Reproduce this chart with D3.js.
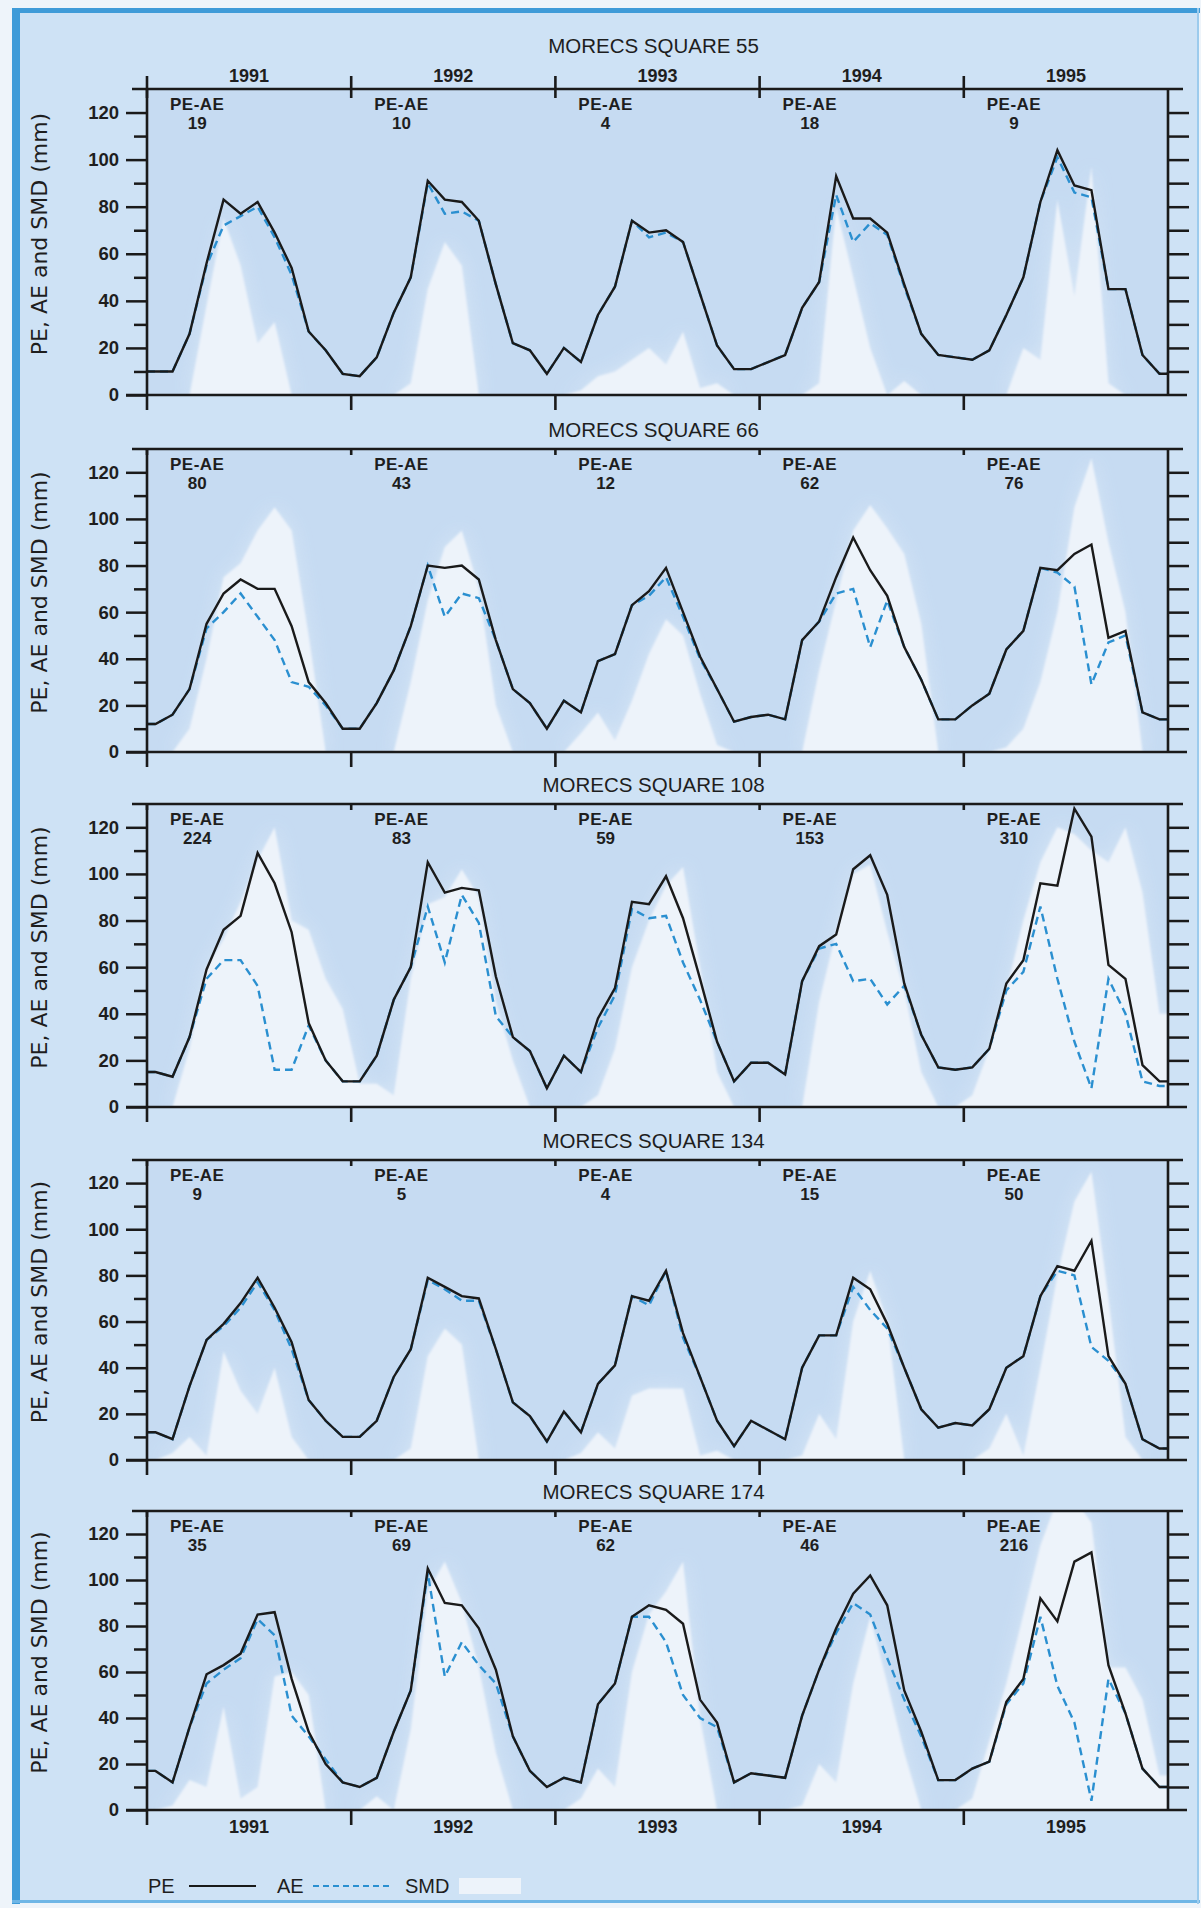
<!DOCTYPE html>
<html>
<head>
<meta charset="utf-8">
<script src="https://cdn.jsdelivr.net/npm/d3@7/dist/d3.min.js"></script>
<style>
  body { margin: 0; background: #eef4fa; }
  text { font-family: "Liberation Sans", Arial, sans-serif; fill: #1e1e1e; }
</style>
</head>
<body>
<svg id="chart" width="1201" height="1908"></svg>
<script>
// ---- data (monthly values, Jan 1991 .. Dec 1995) ----
var years = ["1991", "1992", "1993", "1994", "1995"];
var yTicks = [0, 20, 40, 60, 80, 100, 120];
var squares = [55, 66, 108, 134, 174];

var pe55  = [10,10,26,56,83,77,82,69,54,27,19,9, 8,16,35,50,91,83,82,74,47,22,19,9, 20,14,34,46,74,69,70,65,43,21,11,11, 14,17,37,48,93,75,75,69,47,26,17,16, 15,19,34,50,82,104,89,87,45,45,17,9];
var ae55  = [10,10,26,55,72,76,80,67,51,27,19,9, 8,16,35,50,90,77,78,74,47,22,19,9, 20,14,34,46,74,67,69,65,43,21,11,11, 14,17,37,48,85,65,73,68,46,26,17,16, 15,19,34,50,82,101,86,84,45,45,17,9];
var smd55 = [0,0,0,38,75,55,22,31,0,0,0,0, 0,0,0,5,45,65,55,0,0,0,0,0, 0,2,8,10,15,20,13,27,3,5,0,0, 0,0,0,5,80,50,20,0,6,0,0,0, 0,0,0,20,15,83,42,97,5,0,0,0];
var peae55 = [19, 10, 4, 18, 9];

var pe66  = [12,16,27,55,68,74,70,70,54,30,21,10, 10,21,35,54,80,79,80,74,48,27,21,10, 22,17,39,42,63,69,79,60,41,27,13,15, 16,14,48,56,75,92,78,67,45,31,14,14, 20,25,44,52,79,78,85,89,49,52,17,14];
var ae66  = [12,16,27,53,60,68,58,48,30,28,20,10, 10,21,35,54,80,58,68,66,48,27,21,10, 22,17,39,42,63,67,75,58,40,27,13,15, 16,14,48,56,68,70,45,65,45,31,14,14, 20,25,44,52,79,77,71,29,47,50,17,14];
var smd66 = [0,0,10,40,75,81,95,105,95,50,0,0, 0,0,0,30,65,88,95,70,20,0,0,0, 0,8,17,5,22,42,57,50,25,3,0,0, 0,0,0,35,65,95,106,96,85,55,0,0, 0,0,2,10,30,60,105,126,90,60,0,0];
var peae66 = [80, 43, 12, 62, 76];

var pe108  = [15,13,30,59,76,82,109,96,75,36,20,11, 11,22,46,60,105,92,94,93,56,30,24,8, 22,15,38,51,88,87,99,81,55,28,11,19, 19,14,54,69,74,102,108,91,53,31,17,16, 17,25,53,63,96,95,128,116,61,55,18,11];
var ae108  = [15,13,30,55,63,63,52,16,16,35,20,11, 11,22,46,60,86,62,91,79,39,30,24,8, 22,15,34,48,85,81,82,62,46,28,11,19, 19,14,54,68,70,54,55,44,52,31,17,16, 17,25,50,58,86,55,28,8,55,40,11,9];
var smd108 = [0,0,25,60,72,88,106,120,80,76,55,42, 10,10,5,55,87,90,102,90,45,20,0,0, 0,0,5,25,60,80,95,103,60,15,0,0, 0,0,0,45,75,100,104,75,50,15,0,0, 5,25,50,80,105,120,117,110,105,120,92,40];
var peae108 = [224, 83, 59, 153, 310];

var pe134  = [12,9,32,52,59,68,79,66,51,26,17,10, 10,17,36,48,79,75,71,70,48,25,19,8, 21,12,33,41,71,69,82,55,36,17,6,17, 13,9,40,54,54,79,74,59,40,22,14,16, 15,22,40,45,71,84,82,95,45,33,9,5];
var ae134  = [12,9,32,52,58,66,77,65,48,26,17,10, 10,17,36,48,78,74,69,69,48,25,19,8, 21,12,33,41,71,67,82,53,36,17,6,17, 13,9,40,54,54,75,65,57,40,22,14,16, 15,22,40,45,71,82,80,49,43,33,9,5];
var smd134 = [0,3,10,2,47,30,20,40,10,0,0,0, 0,0,0,5,45,57,50,0,0,0,0,0, 0,3,12,5,28,31,31,31,2,4,0,0, 0,0,2,20,9,60,82,60,0,0,0,0, 0,5,20,2,40,80,112,125,70,10,0,0];
var peae134 = [9, 5, 4, 15, 50];

var pe174  = [17,12,36,59,63,68,85,86,57,34,20,12, 10,14,34,52,105,90,89,79,61,32,17,10, 14,12,46,55,84,89,87,81,48,38,12,16, 15,14,41,61,79,94,102,89,52,34,13,13, 18,21,47,57,92,82,108,112,63,42,18,10];
var ae174  = [17,12,36,55,61,66,83,76,41,32,22,12, 10,14,34,52,103,58,73,63,55,32,17,10, 14,12,46,55,84,84,73,50,40,36,12,16, 15,14,41,61,77,90,85,66,48,32,13,13, 18,21,46,55,84,54,38,4,57,42,18,10];
var smd174 = [0,2,13,10,45,5,10,58,60,50,0,0, 0,6,0,35,95,108,90,62,25,0,0,0, 0,5,18,10,60,85,95,108,40,0,0,0, 0,0,2,20,12,55,84,55,25,0,0,0, 5,30,55,85,115,135,135,125,62,62,48,15];
var peae174 = [35, 69, 62, 46, 216];

var panels = [
  {square: squares[0], pe: pe55,  ae: ae55,  smd: smd55,  diff: peae55},
  {square: squares[1], pe: pe66,  ae: ae66,  smd: smd66,  diff: peae66},
  {square: squares[2], pe: pe108, ae: ae108, smd: smd108, diff: peae108},
  {square: squares[3], pe: pe134, ae: ae134, smd: smd134, diff: peae134},
  {square: squares[4], pe: pe174, ae: ae174, smd: smd174, diff: peae174}
];

// ---- layout ----
var plotLeft = 147, plotRight = 1168;
var panelTops    = [89, 449, 804, 1160, 1511];
var panelBottoms = [395, 752, 1107, 1460, 1810];
var Y_MAX = 130;

var svg = d3.select("#chart");

// page frame
svg.append("rect").attr("x", 14).attr("y", 10).attr("width", 1184).attr("height", 1893).attr("fill", "#cee2f5");
svg.append("rect").attr("x", 12).attr("y", 8).attr("width", 1188).attr("height", 5).attr("fill", "#3f9bd8");
svg.append("rect").attr("x", 12).attr("y", 8).attr("width", 8).attr("height", 1896).attr("fill", "#3f9bd8");
svg.append("rect").attr("x", 12).attr("y", 1900).attr("width", 1188).attr("height", 3).attr("fill", "#6fb6e6");
svg.append("rect").attr("x", 1197).attr("y", 8).attr("width", 2).attr("height", 1896).attr("fill", "#9ccbed");

var defs = svg.append("defs");
defs.append("filter").attr("id", "glow")
    .attr("x", "-10%").attr("y", "-10%").attr("width", "120%").attr("height", "120%")
  .append("feGaussianBlur").attr("stdDeviation", 9);
defs.append("filter").attr("id", "soft")
  .append("feGaussianBlur").attr("stdDeviation", 1);

var x = d3.scaleLinear().domain([0, 60]).range([plotLeft, plotRight]);

// monthly points at mid-month, line carried out to both axes
function toPoints(vals) {
  var pts = vals.map(function(v, i) { return {m: i + 0.5, v: v}; });
  pts.unshift({m: 0, v: vals[0]});
  pts.push({m: 60, v: vals[vals.length - 1]});
  return pts;
}

panels.forEach(function(p, k) {
  var top = panelTops[k], bottom = panelBottoms[k];
  var y = d3.scaleLinear().domain([0, Y_MAX]).range([bottom, top]);

  var g = svg.append("g").attr("class", "panel");

  defs.append("clipPath").attr("id", "clip" + k)
    .append("rect")
      .attr("x", plotLeft).attr("y", top)
      .attr("width", plotRight - plotLeft).attr("height", bottom - top);

  var plot = g.append("g").attr("clip-path", "url(#clip" + k + ")");

  plot.append("rect")
    .attr("x", plotLeft).attr("y", top)
    .attr("width", plotRight - plotLeft).attr("height", bottom - top)
    .attr("fill", "#c6dbf2");

  var area = d3.area()
    .x(function(d) { return x(d.m); })
    .y0(y(0))
    .y1(function(d) { return y(d.v); });

  var line = d3.line()
    .x(function(d) { return x(d.m); })
    .y(function(d) { return y(d.v); });

  // SMD: soft halo then near-white fill
  plot.append("path")
    .datum(toPoints(p.smd))
    .attr("d", area)
    .attr("fill", "#dae8f7")
    .attr("opacity", 0.8)
    .attr("filter", "url(#glow)");

  plot.append("path")
    .datum(toPoints(p.smd))
    .attr("d", area)
    .attr("fill", "#edf3fa")
    .attr("filter", "url(#soft)");

  plot.append("path")
    .datum(toPoints(p.ae))
    .attr("d", line)
    .attr("fill", "none")
    .attr("stroke", "#2a8fd0")
    .attr("stroke-width", 2.4)
    .attr("stroke-dasharray", "8,5");

  plot.append("path")
    .datum(toPoints(p.pe))
    .attr("d", line)
    .attr("fill", "none")
    .attr("stroke", "#1a1a1a")
    .attr("stroke-width", 2.4)
    .attr("stroke-linejoin", "miter");

  // axes
  var leftMajor = d3.axisLeft(y).tickValues(yTicks).tickSize(21).tickPadding(7);
  var leftMinor = d3.axisLeft(y).tickValues(d3.range(10, 130, 20)).tickSize(13).tickFormat("");
  var rightTicks = d3.axisRight(y).tickValues(d3.range(10, 130, 10)).tickSize(21).tickFormat("");

  var ax = g.append("g").attr("transform", "translate(" + plotLeft + ",0)").call(leftMajor);
  g.append("g").attr("transform", "translate(" + plotLeft + ",0)").call(leftMinor);
  g.append("g").attr("transform", "translate(" + plotRight + ",0)").call(rightTicks);
  g.selectAll(".domain").remove();
  g.selectAll(".tick line").attr("stroke", "#1a1a1a").attr("stroke-width", 2.5);
  ax.selectAll(".tick text")
    .attr("font-size", 18.5).attr("font-weight", "bold")
    .style("font-family", "'Liberation Sans', Arial, sans-serif").attr("fill", "#1e1e1e");

  var frame = g.append("g").attr("stroke", "#1a1a1a").attr("stroke-width", 2.6);
  frame.append("line").attr("x1", plotLeft - 15).attr("x2", plotRight + 15).attr("y1", y(Y_MAX)).attr("y2", y(Y_MAX));
  frame.append("line").attr("x1", plotLeft - 21).attr("x2", plotRight + 19).attr("y1", y(0)).attr("y2", y(0));
  frame.append("line").attr("x1", plotLeft).attr("x2", plotLeft).attr("y1", y(Y_MAX)).attr("y2", y(0));
  frame.append("line").attr("x1", plotRight).attr("x2", plotRight).attr("y1", y(Y_MAX)).attr("y2", y(0));

  // year boundary ticks
  var bounds = d3.range(0, 5).map(function(i) { return x(12 * i); });
  frame.selectAll(".ybot").data(bounds).enter().append("line")
    .attr("x1", function(d) { return d; }).attr("x2", function(d) { return d; })
    .attr("y1", y(0)).attr("y2", y(0) + 15);
  frame.selectAll(".ytop").data(bounds).enter().append("line")
    .attr("x1", function(d) { return d; }).attr("x2", function(d) { return d; })
    .attr("y1", k === 0 ? y(Y_MAX) - 13 : y(Y_MAX)).attr("y2", y(Y_MAX) + (k === 0 ? 9 : 6));

  // title
  g.append("text")
    .attr("x", (plotLeft + plotRight) / 2 - 4)
    .attr("y", k === 0 ? 53 : top - 12)
    .attr("text-anchor", "middle")
    .attr("font-size", 20.5)
    .text("MORECS SQUARE " + p.square);

  // PE-AE annotations
  p.diff.forEach(function(v, i) {
    var cx = x(12 * i + 2.95);
    g.append("text").attr("x", cx).attr("y", top + 21)
      .attr("text-anchor", "middle").attr("font-size", 17).attr("font-weight", "bold")
      .attr("letter-spacing", 0.5)
      .text("PE-AE");
    g.append("text").attr("x", cx).attr("y", top + 40)
      .attr("text-anchor", "middle").attr("font-size", 17).attr("font-weight", "bold")
      .text(v);
  });

  // y axis title
  g.append("text")
    .attr("transform", "translate(47," + ((top + bottom) / 2 - 8) + ") rotate(-90)")
    .attr("text-anchor", "middle")
    .attr("font-size", 22)
    .style("font-family", "'DejaVu Sans', sans-serif")
    .text("PE, AE and SMD (mm)");

  // year labels: above first panel, below last
  if (k === 0 || k === panels.length - 1) {
    g.selectAll(".yr").data(years).enter().append("text")
      .attr("x", function(d, i) { return x(12 * i + 6); })
      .attr("y", k === 0 ? top - 7 : bottom + 23)
      .attr("text-anchor", "middle")
      .attr("font-size", 18).attr("font-weight", "bold")
      .text(function(d) { return d; });
  }
});

// legend
var leg = svg.append("g");
var ly = 1886;
leg.append("text").attr("x", 148).attr("y", ly + 7).attr("font-size", 20).text("PE");
leg.append("line").attr("x1", 189).attr("x2", 256).attr("y1", ly).attr("y2", ly)
  .attr("stroke", "#1a1a1a").attr("stroke-width", 2);
leg.append("text").attr("x", 277).attr("y", ly + 7).attr("font-size", 20).text("AE");
leg.append("line").attr("x1", 313).attr("x2", 392).attr("y1", ly).attr("y2", ly)
  .attr("stroke", "#2a8fd0").attr("stroke-width", 2).attr("stroke-dasharray", "6,4");
leg.append("text").attr("x", 405).attr("y", ly + 7).attr("font-size", 20).text("SMD");
leg.append("rect").attr("x", 459).attr("y", ly - 8).attr("width", 62).attr("height", 16)
  .attr("fill", "#edf3fa");
</script>
</body>
</html>
